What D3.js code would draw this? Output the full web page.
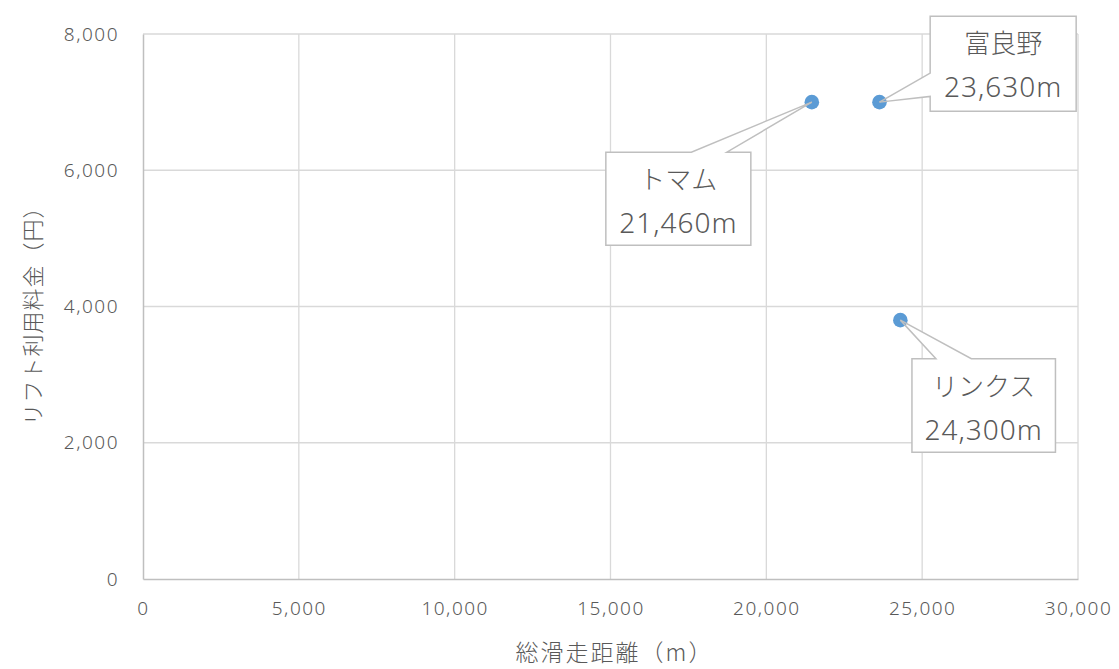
<!DOCTYPE html>
<html><head><meta charset="utf-8">
<script src="https://cdn.jsdelivr.net/npm/d3@7"></script>
<style>
html,body{margin:0;padding:0;background:#fff;}
svg{display:block;font-family:"Noto Sans CJK JP","Noto Sans",sans-serif;}
</style></head>
<body>
<svg id="c" width="1119" height="669"></svg>
<script>
// ---- data ----
const names = ["トマム", "富良野", "リンクス"];
const distance = [21460, 23630, 24300];
const price = [7000, 7000, 3800];
const xTicks = [0, 5000, 10000, 15000, 20000, 25000, 30000];
const yTicks = [0, 2000, 4000, 6000, 8000];
const xTitle = "総滑走距離（m）";
const yTitle = "リフト利用料金（円）";

// ---- layout ----
const L = 143, R = 1078, T = 34, B = 579;
const svg = d3.select("#c");
const x = d3.scaleLinear().domain([0, 30000]).range([L, R]);
const y = d3.scaleLinear().domain([0, 8000]).range([B, T]);
const fmt = d3.format(",");
const textCol = "#595959";

// gridlines
svg.append("g").selectAll("line.v").data(xTicks.slice(1)).join("line")
  .attr("x1", d => x(d)).attr("x2", d => x(d)).attr("y1", T).attr("y2", B)
  .attr("stroke", "#d9d9d9").attr("stroke-width", 1.3);
svg.append("g").selectAll("line.h").data(yTicks.slice(1)).join("line")
  .attr("x1", L).attr("x2", R).attr("y1", d => y(d)).attr("y2", d => y(d))
  .attr("stroke", "#d9d9d9").attr("stroke-width", 1.3);

// axes
const xAxis = svg.append("g").attr("transform", `translate(0,${B})`)
  .call(d3.axisBottom(x).tickValues(xTicks).tickFormat(fmt).tickSize(0).tickPadding(26));
const yAxis = svg.append("g").attr("transform", `translate(${L},0)`)
  .call(d3.axisLeft(y).tickValues(yTicks).tickFormat(fmt).tickSize(0).tickPadding(24));
[xAxis, yAxis].forEach(g => {
  g.select(".domain").attr("stroke", "#bfbfbf").attr("stroke-width", 1.5);
  g.selectAll("text").attr("fill", textCol).attr("font-size", 19)
    .attr("letter-spacing", 1.5).attr("font-family", "Noto Sans, sans-serif").attr("font-weight", 300);
});
yAxis.selectAll("text").attr("dy", "0.32em");
xAxis.selectAll("text").attr("dy", "0.5em");

// axis titles
svg.append("text").attr("x", (L + R) / 2 + 4).attr("y", 661)
  .attr("text-anchor", "middle").attr("fill", textCol).attr("font-size", 23)
  .attr("font-weight", 300).attr("letter-spacing", 2)
  .text(xTitle);
svg.append("text").attr("transform", `translate(41,${(T + B) / 2 + 4}) rotate(-90)`)
  .attr("text-anchor", "middle").attr("fill", textCol).attr("font-size", 22)
  .attr("font-weight", 300).attr("letter-spacing", 1)
  .text(yTitle);

// callout geometry (pixel offsets from the point)
const callouts = [
  { dx: -206, dy: 50, w: 145, h: 93, side: "top", b1: -120.5, b2: -85 },
  { dx: 50.7, dy: -86, w: 146, h: 95, side: "left", b1: -29, b2: -5.7 },
  { dx: 11.6, dy: 38.6, w: 143.5, h: 93.5, side: "top", b1: 35.6, b2: 71 }
];

const pts = names.map((n, i) => ({ name: n, xv: distance[i], yv: price[i], c: callouts[i] }));

// callouts
pts.forEach(p => {
  const px = x(p.xv), py = y(p.yv), c = p.c;
  const x0 = px + c.dx, y0 = py + c.dy, x1 = x0 + c.w, y1 = y0 + c.h;
  let poly;
  if (c.side === "top") {
    poly = [[x0, y0], [px + c.b1, y0], [px, py], [px + c.b2, y0], [x1, y0], [x1, y1], [x0, y1]];
  } else {
    poly = [[x0, y0], [x1, y0], [x1, y1], [x0, y1], [x0, py + c.b2], [px, py], [x0, py + c.b1]];
  }
  svg.append("path").attr("d", "M" + poly.map(q => q.join(",")).join("L") + "Z")
    .attr("fill", "#fff").attr("stroke", "#bfbfbf").attr("stroke-width", 1.5);
  const cx = (x0 + x1) / 2;
  svg.append("text").attr("x", cx).attr("y", y0 + 28).attr("dy", "0.35em")
    .attr("text-anchor", "middle").attr("fill", textCol).attr("font-size", 26)
    .attr("font-weight", 300)
    .text(p.name);
  svg.append("text").attr("x", cx).attr("y", y0 + 71).attr("dy", "0.35em")
    .attr("text-anchor", "middle").attr("fill", textCol).attr("font-size", 28)
    .attr("font-family", "Noto Sans, sans-serif").attr("font-weight", 300).attr("letter-spacing", 1)
    .text(fmt(p.xv) + "m");
});

// points
svg.append("g").selectAll("circle").data(pts).join("circle")
  .attr("cx", d => x(d.xv)).attr("cy", d => y(d.yv)).attr("r", 7.3)
  .attr("fill", "#5b9bd5");
// leader tip lines drawn over marker
pts.forEach(p => {
  const px = x(p.xv), py = y(p.yv), c = p.c;
  const x0 = px + c.dx, y0 = py + c.dy;
  const a = c.side === "top" ? [[px + c.b1, y0], [px + c.b2, y0]] : [[x0, py + c.b1], [x0, py + c.b2]];
  a.forEach(q => {
    const t = 8 / Math.hypot(q[0] - px, q[1] - py);
    svg.append("line").attr("x1", px).attr("y1", py)
      .attr("x2", px + (q[0] - px) * t).attr("y2", py + (q[1] - py) * t)
      .attr("stroke", "#bfbfbf").attr("stroke-width", 1.5);
  });
});
</script>
</body></html>
